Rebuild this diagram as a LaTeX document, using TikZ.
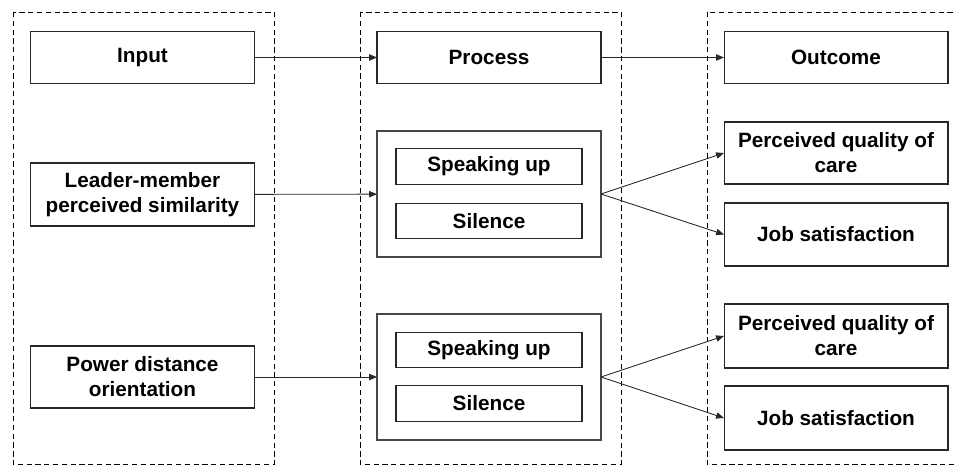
\documentclass[tikz,border=0pt]{standalone}
\usepackage{fontspec}
\setmainfont{Liberation Sans}
\usepackage{tikz}
\usetikzlibrary{arrows.meta,positioning}
\definecolor{boxline}{RGB}{40,40,40}
\tikzset{
  box/.style={rectangle,draw=boxline,line width=0.6pt,fill=white,minimum width=#1,
    minimum height=1.04cm,inner sep=0pt,outer sep=0pt,align=center,
    font=\fontsize{11.8}{14.2}\selectfont\bfseries},
  box/.default=4.48cm,
  inbox/.style={box=3.72cm,minimum height=0.71cm},
  grp/.style={rectangle,draw=boxline!85,line width=0.6pt,minimum width=4.48cm,
    minimum height=2.52cm,inner sep=0pt,outer sep=0pt},
  col/.style={draw=black,dashed,dash pattern=on 3pt off 2pt,line width=0.5pt},
  arr/.style={-{Triangle[length=4.5pt,width=3.6pt]},line width=0.5pt,color=boxline}
}
\begin{document}
\begin{tikzpicture}[x=0.02cm,y=-0.02cm]
    \useasboundingbox (0,0) rectangle (954,466);
    % dashed columns
    \draw[col] (13,12) rectangle (274,464);
    \draw[col] (360,12) rectangle (621,464);
    \draw[col] (707,12) rectangle (962,464);

    % input column
    \node[box] (input) at (142.5,57.5) {Input};
    \node[box,minimum height=1.26cm] (lmx) at (142.5,194.5) {Leader-member\\ perceived similarity};
    \node[box,minimum height=1.24cm] (pdo) at (142.5,377) {Power distance\\ orientation};

    % process column
    \node[box] (process) at (489,57.5) {Process};
    \node[grp] (grp1) at (489,194) {};
    \node[inbox] (speak1) at (489,166.5) {Speaking up};
    \node[inbox] (sil1) at (489,221) {Silence};
    \node[grp] (grp2) at (489,377) {};
    \node[inbox] (speak2) at (489,350) {Speaking up};
    \node[inbox] (sil2) at (489,403.5) {Silence};

    % outcome column
    \node[box] (outcome) at (836,57.5) {Outcome};
    \node[box,minimum height=1.24cm] (care1) at (836,153) {Perceived quality of\\ care};
    \node[box,minimum height=1.26cm] (job1) at (836,234.5) {Job satisfaction};
    \node[box,minimum height=1.28cm] (care2) at (836,336) {Perceived quality of\\ care};
    \node[box,minimum height=1.28cm] (job2) at (836,418) {Job satisfaction};

    \draw[arr] (input) -- (process);
    \draw[arr] (process) -- (outcome);
    \draw[arr] (lmx) -- (grp1);
    \draw[arr] (pdo) -- (grp2);
    \draw[arr] (grp1.east) -- (care1.west);
    \draw[arr] (grp1.east) -- (job1.west);
    \draw[arr] (grp2.east) -- (care2.west);
    \draw[arr] (grp2.east) -- (job2.west);
  \end{tikzpicture}
\end{document}
